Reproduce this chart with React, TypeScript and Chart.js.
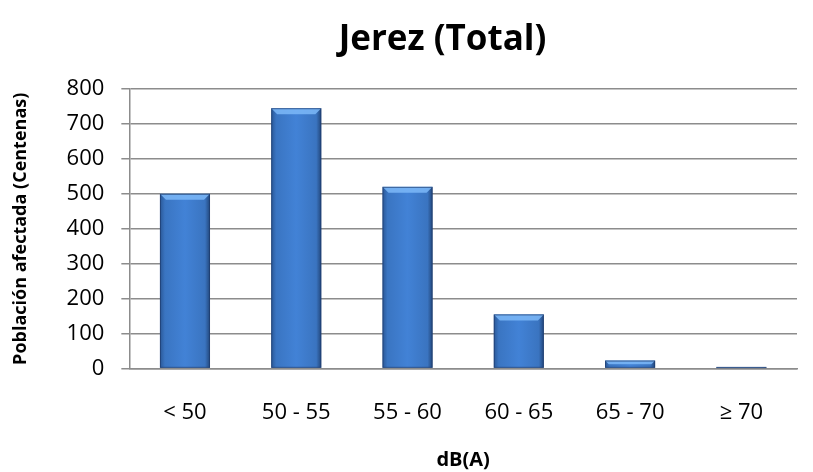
import React, { useEffect, useRef } from "react";
import { Chart, registerables } from "chart.js";

Chart.register(...registerables);

const chartTitle = "Jerez (Total)";
const categories = ["< 50", "50 - 55", "55 - 60", "60 - 65", "65 - 70", "≥ 70"];
const poblacion = [500, 745, 520, 155, 23, 4];
const yTicks = [0, 100, 200, 300, 400, 500, 600, 700, 800];

const FONT = "'Open Sans', 'Liberation Sans', sans-serif";

const titlePlugin = {
  id: "customTitle",
  afterDraw(chart: any) {
    const ctx = chart.ctx;
    ctx.save();
    ctx.font = `bold 35px ${FONT}`;
    ctx.fillStyle = "#000";
    ctx.textAlign = "center";
    ctx.textBaseline = "middle";
    ctx.fillText(chartTitle, chart.width / 2 + 36, 40);
    ctx.restore();
  },
};

const barShade = {
  id: "barShade",
  afterDatasetsDraw(chart: any) {
    const ctx = chart.ctx;
    const meta = chart.getDatasetMeta(0);
    meta.data.forEach((bar: any) => {
      const { x, y, base, width } = bar.getProps(["x", "y", "base", "width"], true);
      const l = x - width / 2;
      const r = x + width / 2;
      const h = base - y;
      if (h <= 0) return;
      ctx.save();
      const g = ctx.createLinearGradient(l, 0, r, 0);
      g.addColorStop(0, "#2a5796");
      g.addColorStop(0.1, "#3a75c2");
      g.addColorStop(0.5, "#4282d6");
      g.addColorStop(0.9, "#3a74c0");
      g.addColorStop(1, "#22467a");
      ctx.fillStyle = g;
      ctx.fillRect(l, y, width, h);
      const bev = Math.min(6, h / 2);
      ctx.fillStyle = "rgba(125,185,248,0.85)";
      ctx.beginPath();
      ctx.moveTo(l, y);
      ctx.lineTo(r, y);
      ctx.lineTo(r - bev, y + bev);
      ctx.lineTo(l + bev, y + bev);
      ctx.closePath();
      ctx.fill();
      ctx.strokeStyle = "rgba(30,60,110,0.7)";
      ctx.lineWidth = 1;
      ctx.strokeRect(l + 0.5, y + 0.5, width - 1, h - 1);
      ctx.restore();
    });
  },
};

export default function App() {
  const ref = useRef<HTMLCanvasElement>(null);
  useEffect(() => {
    document.body.style.margin = "0";
    const chart = new Chart(ref.current!, {
      type: "bar",
      data: {
        labels: categories,
        datasets: [
          {
            data: poblacion,
            backgroundColor: "rgba(0,0,0,0)",
            borderWidth: 0,
            categoryPercentage: 1,
            barPercentage: 0.45,
          },
        ],
      },
      plugins: [barShade, titlePlugin],
      options: {
        animation: false,
        responsive: false,
        maintainAspectRatio: false,
        layout: { padding: { left: 8, right: 16, top: 89, bottom: 0 } },
        plugins: {
          legend: { display: false },
          tooltip: { enabled: false },
          title: { display: false },
        },
        scales: {
          x: {
            grid: { display: false, drawTicks: false },
            border: { display: true, color: "#8c8c8c", width: 1.5 },
            ticks: { color: "#000", font: { family: FONT, size: 22 }, padding: 31 },
            title: {
              display: true,
              text: "dB(A)",
              color: "#000",
              font: { family: FONT, size: 20, weight: "bold" },
              padding: { top: -9, bottom: 0 },
            },
          },
          y: {
            min: 0,
            max: 800,
            afterBuildTicks: (axis: any) => {
              axis.ticks = yTicks.map((v) => ({ value: v }));
            },
            grid: { color: "#8c8c8c", lineWidth: 1.5, tickLength: 8 },
            border: { display: true, color: "#8c8c8c", width: 1.5 },
            ticks: { color: "#000", font: { family: FONT, size: 22 }, padding: 17 },
            title: {
              display: true,
              text: "Población afectada (Centenas)",
              color: "#000",
              font: { family: FONT, size: 18, weight: "bold" },
              padding: { top: 2, bottom: 18 },
            },
          },
        },
      },
    });
    return () => chart.destroy();
  }, []);
  return (
    <div style={{ width: 813, height: 472 }}>
      <canvas ref={ref} width={813} height={472} style={{ display: "block" }} />
    </div>
  );
}
